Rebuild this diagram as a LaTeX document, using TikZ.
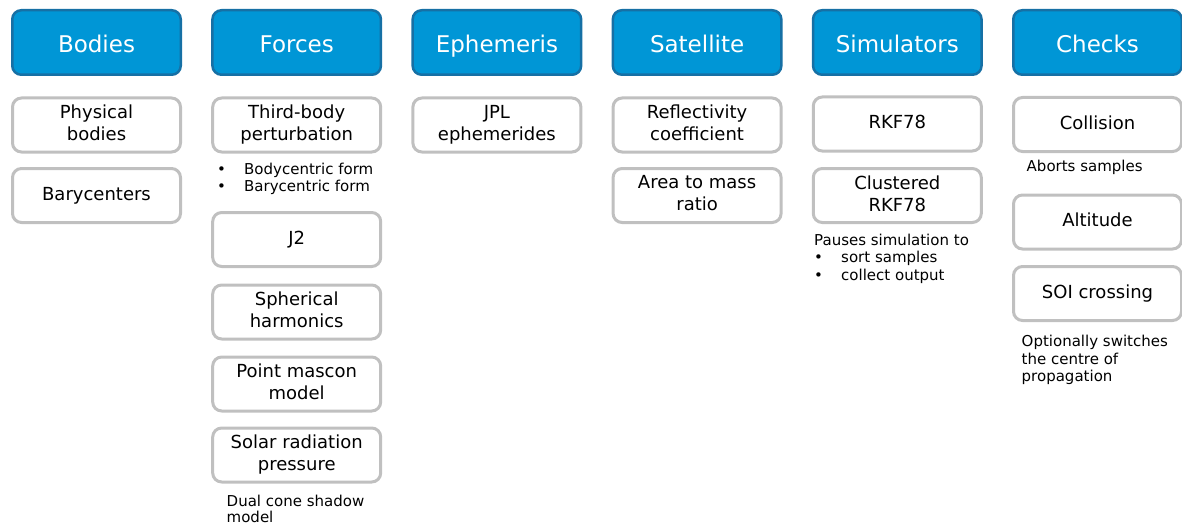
\documentclass[tikz,border=0pt]{standalone}
\usepackage{fontspec}
\setmainfont{DejaVu Sans}
\usepackage{xcolor}
\definecolor{groupblue}{RGB}{0,150,214}
\definecolor{groupedge}{RGB}{22,112,165}
\definecolor{entrygrey}{RGB}{192,192,192}
\newcommand{\bul}{\makebox[27pt][l]{\textbullet}}
% fixed line height so descenders do not move the text
\newcommand{\groupstrut}{\rule{0pt}{20pt}}
\newcommand{\entrystrut}{\rule[-4.5pt]{0pt}{18.5pt}}

\begin{document}
\begin{tikzpicture}[
			x=1pt, y=-1pt,
			group/.style={rectangle,rounded corners=9pt,draw=groupedge,fill=groupblue,
			line width=2.5pt,minimum width=168.5pt,minimum height=64.5pt,inner sep=0pt,
			text=white,font=\fontsize{23}{27}\selectfont,
			text height=20pt,text depth=0pt},
			entry/.style={rectangle,rounded corners=9pt,draw=entrygrey,fill=white,
			line width=3pt,minimum width=168pt,minimum height=54pt,inner sep=0pt,
			align=center,font=\fontsize{18}{22}\selectfont,
			execute at begin node=\entrystrut,execute at end node=\entrystrut},
			note/.style={anchor=north west,align=left,inner sep=0pt,
			font=\fontsize{15}{17.5}\selectfont}
			]
			\useasboundingbox (0,0) rectangle (1182,524);
			% column headers
			\node[group] (bodies) at (96.5,42.5) {Bodies};
			\node[group] (forces) at (296.7,42.5) {Forces};
			\node[group] (ephem) at (496.9,42.5) {Ephemeris};
			\node[group] (sat) at (697.1,42.5) {Satellite};
			\node[group] (sims) at (897.3,42.5) {Simulators};
			\node[group] (checks) at (1097.5,42.5) {Checks};
			% bodies
			\node[entry] (phys) at (96.5,125) {Physical\\bodies};
			\node[entry] (bary) at (96.5,195.5) {Barycenters};
			% forces
			\node[entry] (third) at (296.7,125) {Third-body\\perturbation};
			\node[note] (thirdnote) at (217,162.6)
				{\bul Bodycentric form\\\bul Barycentric form};
			\node[entry] (jtwo) at (296.7,239.5) {J2};
			\node[entry] (sph) at (296.7,312) {Spherical\\harmonics};
			\node[entry] (mascon) at (296.7,384) {Point mascon\\model};
			\node[entry] (srp) at (296.7,455) {Solar radiation\\pressure};
			\node[note, font=\fontsize{15}{16}\selectfont] (srpnote) at (226.5,494.6)
				{Dual cone shadow\\model};
			% ephemeris
			\node[entry] (jpl) at (496.9,125) {JPL\\ephemerides};
			% satellite
			\node[entry] (refl) at (697.1,125) {Reflectivity\\coefficient};
			\node[entry] (amr) at (697.1,195.5) {Area to mass\\ratio};
			% simulators
			\node[entry] (rkf) at (897.3,124) {RKF78};
			\node[entry] (crkf) at (897.3,195.5) {Clustered\\RKF78};
			\node[note] (crkfnote) at (814,233.6)
				{Pauses simulation to\\\bul sort samples\\\bul collect output};
			% checks
			\node[entry] (coll) at (1097.5,124.5) {Collision};
			\node[note] (collnote) at (1026.5,160.3) {Aborts samples};
			\node[entry] (alt) at (1097.5,222) {Altitude};
			\node[entry] (soi) at (1097.5,293.5) {SOI crossing};
			\node[note] (soinote) at (1021.5,335.3)
				{Optionally switches\\the centre of\\propagation};
		\end{tikzpicture}
\end{document}
